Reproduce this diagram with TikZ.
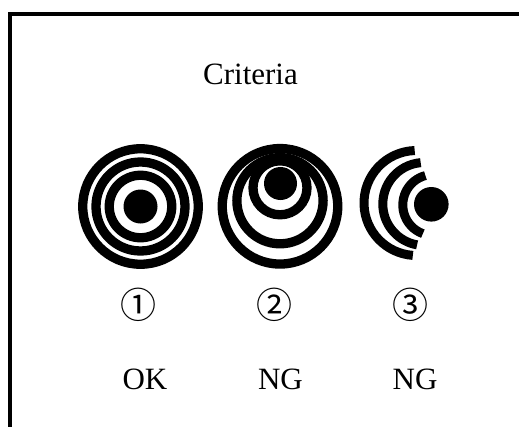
\documentclass[tikz,border=0pt]{standalone}
\usepackage{fontspec}
\setmainfont{Liberation Serif}
\newfontfamily\cjkjp{Noto Sans CJK JP}
\begin{document}
\begin{tikzpicture}[x=1pt,y=-1pt,
  ringline/.style={draw=black,line width=9.3pt},
  arcline/.style={draw=black,line width=9pt,line cap=butt},
  txt/.style={font=\fontsize{31}{31}\selectfont,anchor=base,inner sep=0pt},
  num/.style={font=\cjkjp\fontsize{36}{36}\selectfont,inner sep=0pt}]
\useasboundingbox (0,0) rectangle (519,426);
\fill[white] (0,0) rectangle (519,426);
% frame
\draw[line width=3.5pt,line join=miter] (10,430) -- (10,14) -- (525,14);
% criterion 1: concentric
\coordinate (c1) at (140.5,206.5);
\draw[ringline] (c1) circle[radius=57.75pt];
\draw[ringline] (c1) circle[radius=44.5pt];
\draw[ringline] (c1) circle[radius=31.25pt];
\fill (c1) circle[radius=17pt];
% criterion 2: shifted up
\coordinate (c2a) at (280,206.3);
\coordinate (c2b) at (280,200.7);
\coordinate (c2c) at (280,187.8);
\coordinate (c2d) at (280.5,183.5);
\draw[ringline] (c2a) circle[radius=57.75pt];
\draw[ringline] (c2b) circle[radius=43.1pt];
\draw[ringline] (c2c) circle[radius=27pt];
\fill (c2d) circle[radius=16.5pt];
% criterion 3: open arcs
\coordinate (c3a) at (416.5,203);
\coordinate (c3b) at (424.3,204);
\coordinate (c3c) at (433.3,205);
\coordinate (c3d) at (431.3,204.3);
\draw[arcline] (c3a) ++(92:52.5pt) arc[start angle=92,end angle=266,radius=52.5pt];
\draw[arcline] (c3b) ++(95:41.5pt) arc[start angle=95,end angle=260,radius=41.5pt];
\draw[arcline] (c3c) ++(105:30.5pt) arc[start angle=105,end angle=250,radius=30.5pt];
\fill (c3d) circle[radius=17.3pt];
% texts
\node[txt] (title) at (250.5,84) {Criteria};
\node[num] (n1) at (138,305) {①};
\node[num] (n2) at (274,305) {②};
\node[num] (n3) at (410,305) {③};
\node[txt] (r1) at (145,389) {OK};
\node[txt] (r2) at (280.5,389) {NG};
\node[txt] (r3) at (415,389) {NG};
\end{tikzpicture}
\end{document}
